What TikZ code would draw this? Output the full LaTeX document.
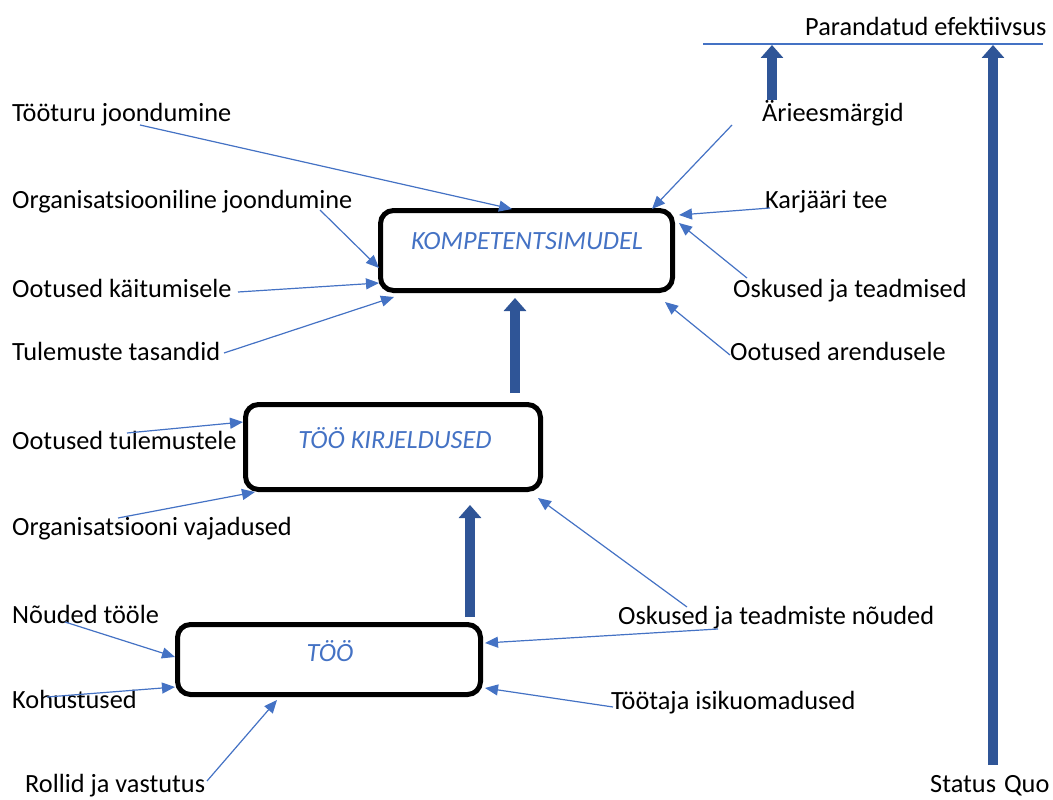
\documentclass[tikz,border=0pt]{standalone}
\usepackage{fontspec}
\setmainfont{Carlito}
\usetikzlibrary{arrows.meta,calc}
\definecolor{lblue}{RGB}{68,114,196}
\definecolor{dblue}{RGB}{47,85,151}
\begin{document}
\begin{tikzpicture}[x=1pt,y=-1pt,
  lbl/.style={anchor=mid west,inner sep=0pt,font=\fontsize{26.3}{30}\selectfont,text=black},
  boxtxt/.style={inner sep=0pt,font=\fontsize{26.3}{30}\selectfont\itshape,text=lblue},
  bigbox/.style={draw=black,line width=5pt,rounded corners=13pt,inner sep=0pt},
  thin/.style={draw=lblue,line width=1.2pt,-{Triangle[length=13pt,width=11pt]}},
  thick/.style={draw=dblue,line width=10pt,-{Triangle[length=13pt,width=22pt]}},
  hline/.style={draw=lblue,line width=1.3pt}]
\useasboundingbox (0,0) rectangle (1053,800);
% boxes
\node[bigbox,minimum width=292pt,minimum height=80pt] (komp) at (526.5,250.5) {};
\node[bigbox,minimum width=295pt,minimum height=85pt] (kirj) at (393,447) {};
\node[bigbox,minimum width=303pt,minimum height=70pt] (too) at (329,659.5) {};
\node[boxtxt] (kompt) at (527,241) {KOMPETENTSIMUDEL};
\node[boxtxt] (kirjt) at (395,438) {TÖÖ KIRJELDUSED};
\node[boxtxt] (toot) at (330,651) {TÖÖ};
% labels
\node[lbl] (par) at (805,33) {Parandatud efektiivsus};
\node[lbl] (ari) at (762,119) {Ärieesmärgid};
\node[lbl] (toet) at (12,119) {Tööturu joondumine};
\node[lbl] (orgj) at (12,206) {Organisatsiooniline joondumine};
\node[lbl] (karj) at (765,206) {Karjääri tee};
\node[lbl] (ootk) at (12,295) {Ootused käitumisele};
\node[lbl] (osk) at (733,295) {Oskused ja teadmised};
\node[lbl] (tul) at (12,358) {Tulemuste tasandid};
\node[lbl] (oota) at (730,358) {Ootused arendusele};
\node[lbl] (oott) at (12,447) {Ootused tulemustele};
\node[lbl] (orgv) at (12,533) {Organisatsiooni vajadused};
\node[lbl] (noud) at (12,621) {Nõuded tööle};
\node[lbl] (oskn) at (618,622) {Oskused ja teadmiste nõuded};
\node[lbl] (koh) at (12,706) {Kohustused};
\node[lbl] (tio) at (611,707) {Töötaja isikuomadused};
\node[lbl] (rol) at (25,790) {Rollid ja vastutus};
\node[lbl] (sq) at (930,790) {Status\hspace{8pt}Quo};
% start coordinates
\coordinate (s1) at (140,125);
\coordinate (s2) at (732,125);
\coordinate (s3) at (320,210);
\coordinate (s4) at (238,292);
\coordinate (s5) at (224,353);
\coordinate (s6) at (770,208);
\coordinate (s7) at (747,278);
\coordinate (s8) at (730,355);
\coordinate (s9) at (127,433);
\coordinate (s10) at (118,518);
\coordinate (s11) at (687,607);
\coordinate (s12) at (718,629);
\coordinate (s13) at (613,707);
\coordinate (s14) at (65,622);
\coordinate (s15) at (47,697);
\coordinate (s16) at (207,781);
\coordinate (hl1) at (703,44);
\coordinate (hl2) at (1043,44);
\coordinate (ariS) at (772,100);
\coordinate (ariT) at (772,45);
\coordinate (sqS) at (993,765);
\coordinate (sqT) at (993,45);
% top line
\draw[hline] (hl1) -- (hl2);
% thin arrows
\draw[thin] (s1) -- ($(komp.north west)+(134,1)$);
\draw[thin] (s2) -- ($(komp.north west)+(274,1)$);
\draw[thin] (s3) -- ($(komp.north west)+(1,60)$);
\draw[thin] (s4) -- ($(komp.north west)+(1,75)$);
\draw[thin] (s5) -- ($(komp.north west)+(16,89)$);
\draw[thin] (s6) -- ($(komp.north west)+(301,7)$);
\draw[thin] (s7) -- ($(komp.north west)+(301,15)$);
\draw[thin] (s8) -- ($(komp.north west)+(287,94)$);
\draw[thin] (s9) -- ($(kirj.north west)+(0,20)$);
\draw[thin] (s10) -- ($(kirj.north west)+(12,90)$);
\draw[thin] (s11) -- ($(kirj.north west)+(295,96)$);
\draw[thin] (s12) -- ($(too.north west)+(310,21)$);
\draw[thin] (s13) -- ($(too.north west)+(310,66)$);
\draw[thin] (s14) -- ($(too.north west)+(0,35)$);
\draw[thin] (s15) -- ($(too.north west)+(0,65)$);
\draw[thin] (s16) -- ($(too.north west)+(102,78)$);
% thick arrows
\draw[thick] ($(too.north west)+(295,-5)$) -- ($(kirj.north west)+(227,103)$);
\draw[thick] ($(kirj.north west)+(272,-9)$) -- ($(komp.north west)+(137,90)$);
\draw[thick] (ariS) -- (ariT);
\draw[thick] (sqS) -- (sqT);
\end{tikzpicture}
\end{document}
